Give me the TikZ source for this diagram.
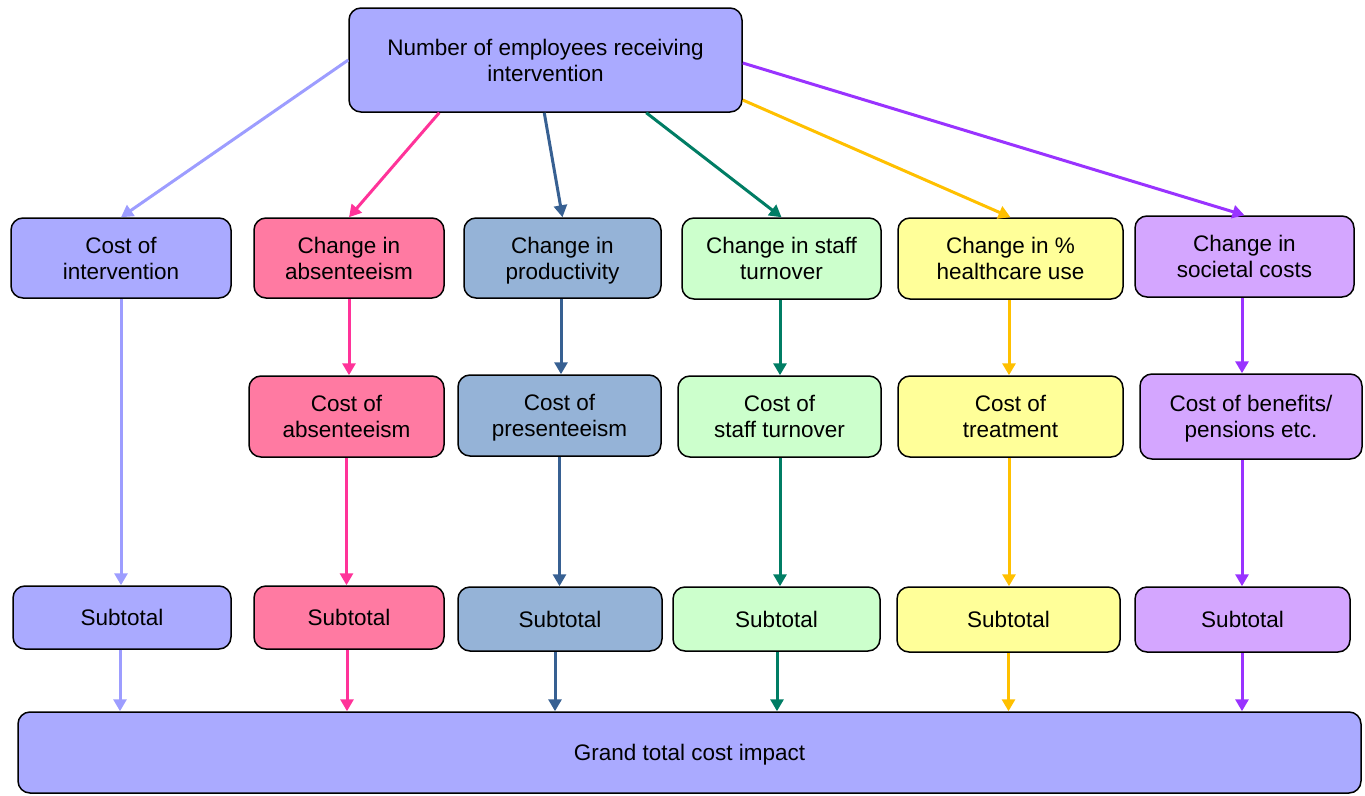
\documentclass[tikz,border=0pt]{standalone}
\usepackage{fontspec}
\setmainfont{Liberation Sans}
\usetikzlibrary{arrows.meta,calc}
\definecolor{lavF}{HTML}{AAAAFF}
\definecolor{pinkF}{HTML}{FF7AA2}
\definecolor{blueF}{HTML}{95B3D7}
\definecolor{mintF}{HTML}{CCFFCC}
\definecolor{yelF}{HTML}{FFFF99}
\definecolor{lilF}{HTML}{D4A6FF}
\definecolor{lavA}{HTML}{9D9DFF}
\definecolor{pinkA}{HTML}{FF3399}
\definecolor{blueA}{HTML}{376092}
\definecolor{tealA}{HTML}{007D64}
\definecolor{goldA}{HTML}{FFC000}
\definecolor{purA}{HTML}{9933FF}
\tikzset{
  box/.style={draw=black, line width=1.5pt, rounded corners=12pt, inner sep=0pt,
    align=center, font=\fontsize{22.5}{26}\selectfont, text=black},
  conn/.style={line width=3pt, -{Triangle[length=12pt,width=13pt]}},
}
\newcommand{\bx}[7]{\node[box, fill=#1, minimum width=#2pt, minimum height=#3pt] (#4) at (#5,#6) {\rule{0pt}{17pt}#7\rule[-1pt]{0pt}{1pt}};}
\newcommand{\vdown}[5]{%
  \coordinate (#2-from) at ($(#3.south)+(#5,0)$);
  \draw[conn, #1] (#2-from) -- (#2-from |- #4.north);}
\begin{document}
\begin{tikzpicture}[x=1pt,y=-1pt]
\useasboundingbox (0,0) rectangle (1365,795);
\bx{lavF}{393}{104}{top}{545.5}{60}{Number of employees receiving\\intervention}
\bx{lavF}{220}{80}{ci}{121}{258}{Cost of\\intervention}
\bx{pinkF}{190}{80}{ca}{349}{258}{Change in\\absenteeism}
\bx{blueF}{197}{80}{cp}{562.5}{258}{Change in\\\smash{productivity}}
\bx{mintF}{199}{81}{cs}{781.5}{258.5}{Change in staff\\turnover}
\bx{yelF}{225}{81}{ch}{1010.5}{258.5}{Change in \%\\healthcare use}
\bx{lilF}{219}{81}{cc}{1244.5}{256.5}{Change in\\societal costs}
\bx{pinkF}{195}{81}{ka}{346.5}{416.5}{Cost of\\absenteeism}
\bx{blueF}{203}{81}{kp}{559.5}{415.5}{Cost of\\\smash{presenteeism}}
\bx{mintF}{203}{81}{ks}{779.5}{416.5}{Cost of\\staff turnover}
\bx{yelF}{225}{81}{kt}{1010.5}{416.5}{Cost of\\treatment}
\bx{lilF}{222}{85}{kb}{1251}{416.5}{Cost of benefits/\\\smash{pensions etc.}}
\bx{lavF}{218}{63}{s1}{122}{617.5}{Subtotal}
\bx{pinkF}{190}{63}{s2}{349}{617.5}{Subtotal}
\bx{blueF}{204}{64}{s3}{560}{619}{Subtotal}
\bx{mintF}{207}{64}{s4}{776.5}{619}{Subtotal}
\bx{yelF}{223}{65}{s5}{1008.5}{619.5}{Subtotal}
\bx{lilF}{215}{65}{s6}{1242.5}{619.5}{Subtotal}
\bx{lavF}{1343}{81}{g}{689.5}{752.5}{\smash{Grand total cost impact}}
% top fan-out
\draw[conn, lavA] (top.west) -- (ci.north);
\draw[conn, pinkA] ($(top.south west)+(91,0)$) -- (ca.north);
\draw[conn, blueA] ($(top.south west)+(196,0)$) -- (cp.north);
\draw[conn, tealA] ($(top.south west)+(298,0)$) -- (cs.north);
\draw[conn, goldA] ($(top.east)+(0,40)$) -- (ch.north);
\draw[conn, purA] ($(top.east)+(0,3)$) -- (cc.north);
% column 1
\vdown{lavA}{c1a}{ci}{s1}{0}
\vdown{lavA}{c1b}{s1}{g}{-2}
% column 2
\vdown{pinkA}{c2a}{ca}{ka}{0}
\vdown{pinkA}{c2b}{ka}{s2}{0}
\vdown{pinkA}{c2c}{s2}{g}{-2}
% column 3
\vdown{blueA}{c3a}{cp}{kp}{-1.5}
\vdown{blueA}{c3b}{kp}{s3}{0}
\vdown{blueA}{c3c}{s3}{g}{-5}
% column 4
\vdown{tealA}{c4a}{cs}{ks}{-1.5}
\vdown{tealA}{c4b}{ks}{s4}{0.5}
\vdown{tealA}{c4c}{s4}{g}{0.5}
% column 5
\vdown{goldA}{c5a}{ch}{kt}{-1.5}
\vdown{goldA}{c5b}{kt}{s5}{-1.5}
\vdown{goldA}{c5c}{s5}{g}{0}
% column 6
\vdown{purA}{c6a}{cc}{kb}{-2.5}
\vdown{purA}{c6b}{kb}{s6}{-9}
\vdown{purA}{c6c}{s6}{g}{-0.5}
\end{tikzpicture}
\end{document}
